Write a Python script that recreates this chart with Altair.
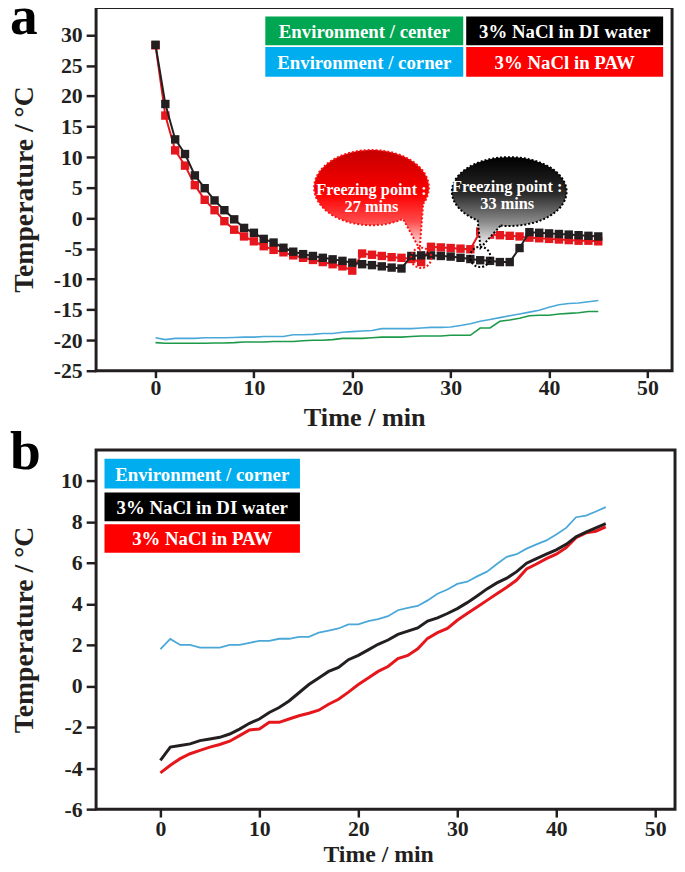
import altair as alt
import numpy as np
import pandas as pd

# ---------------- data ----------------
minutes = list(range(46))

# panel a (cooling)
a_env_center = [-20.4, -20.5, -20.5, -20.5, -20.5, -20.5, -20.45, -20.45, -20.4, -20.3,
                -20.3, -20.3, -20.2, -20.2, -20.2, -20.1, -20.0, -20.0, -19.9, -19.7,
                -19.7, -19.7, -19.6, -19.5, -19.5, -19.5, -19.4, -19.3, -19.3, -19.3,
                -19.2, -19.2, -19.2, -18.0, -18.0, -16.9, -16.7, -16.4, -16.0, -15.9,
                -15.9, -15.7, -15.6, -15.5, -15.3, -15.3]
a_env_corner = [-19.6, -19.9, -19.7, -19.7, -19.7, -19.6, -19.6, -19.6, -19.55, -19.5,
                -19.5, -19.4, -19.4, -19.4, -19.1, -19.1, -19.05, -18.9, -18.9, -18.7,
                -18.6, -18.5, -18.4, -18.1, -18.1, -18.1, -18.1, -18.0, -17.9, -17.9,
                -17.85, -17.6, -17.3, -16.9, -16.6, -16.3, -16.0, -15.7, -15.4, -15.1,
                -14.6, -14.2, -14.0, -13.9, -13.7, -13.5]
a_di = [28.4, 18.7, 12.9, 10.5, 7.0, 4.9, 2.9, 1.3, -0.2, -1.6,
        -2.4, -3.4, -4.0, -4.85, -5.5, -5.9, -6.2, -6.5, -6.75, -7.0,
        -7.3, -7.55, -7.7, -7.9, -8.1, -8.25, -6.2, -6.1, -6.1, -6.2,
        -6.3, -6.5, -6.7, -6.9, -7.0, -7.2, -7.2, -4.9, -2.3, -2.4,
        -2.5, -2.6, -2.7, -2.8, -2.9, -3.0]
a_paw = [28.3, 16.8, 11.1, 8.6, 5.4, 3.0, 1.3, -0.5, -1.9, -3.0,
         -3.8, -4.6, -5.2, -5.6, -6.1, -6.5, -6.85, -7.2, -7.55, -7.9,
         -8.6, -5.8, -6.0, -6.2, -6.4, -6.5, -6.7, -7.2, -4.7, -4.8,
         -4.9, -5.0, -5.1, -2.2, -2.7, -2.8, -2.9, -3.0, -3.2, -3.3,
         -3.4, -3.5, -3.6, -3.7, -3.7, -3.8]

# panel b (warming)
b_env_corner = [1.79, 2.29, 2.0, 2.0, 1.87, 1.87, 1.87, 2.0, 2.0, 2.1,
                2.2, 2.2, 2.3, 2.3, 2.39, 2.39, 2.6, 2.7, 2.8, 3.0,
                3.0, 3.16, 3.26, 3.4, 3.69, 3.8, 3.9, 4.17, 4.49, 4.7,
                4.97, 5.08, 5.34, 5.57, 5.94, 6.29, 6.42, 6.69, 6.9, 7.09,
                7.38, 7.7, 8.22, 8.3, 8.5, 8.71]
b_di = [-3.62, -2.98, -2.9, -2.82, -2.66, -2.58, -2.5, -2.34, -2.1, -1.82,
        -1.61, -1.29, -1.05, -0.73, -0.33, 0.07, 0.39, 0.71, 0.9, 1.28,
        1.49, 1.76, 2.03, 2.24, 2.51, 2.67, 2.83, 3.16, 3.32, 3.53,
        3.77, 4.06, 4.38, 4.73, 5.02, 5.25, 5.57, 5.98, 6.2, 6.42,
        6.63, 6.9, 7.27, 7.49, 7.7, 7.91]
b_paw = [-4.23, -3.86, -3.54, -3.3, -3.14, -2.98, -2.85, -2.69, -2.42, -2.14,
         -2.1, -1.77, -1.77, -1.61, -1.45, -1.33, -1.18, -0.89, -0.65, -0.3,
         0.07, 0.39, 0.71, 0.95, 1.33, 1.49, 1.81, 2.32, 2.6, 2.8,
         3.2, 3.53, 3.85, 4.17, 4.49, 4.81, 5.16, 5.7, 5.94, 6.2,
         6.42, 6.74, 7.22, 7.46, 7.54, 7.75]

x_ticks = [0, 10, 20, 30, 40, 50]
ya_ticks = [-25, -20, -15, -10, -5, 0, 5, 10, 15, 20, 25, 30]
yb_ticks = [-6, -4, -2, 0, 2, 4, 6, 8, 10]

legend_a_labels = ["Environment / center", "3% NaCl in DI water",
                   "Environment / corner", "3% NaCl in PAW"]
legend_b_labels = ["Environment / corner", "3% NaCl in DI water", "3% NaCl in PAW"]

freeze_times = [27, 33]            # min
freeze_temps = [-6.5, -6.35]       # °C at the marked points
bubble_t = [21.95, 35.95]
bubble_T = [5.0, 4.35]
bubble_line1 = ["Freezing point :", "Freezing point :"]
bubble_line2 = ["27 mins", "33 mins"]
bubble_text_t = [21.95, 35.75]
bubble_text_T1 = [4.68, 5.17]
bubble_text_T2 = [1.76, 2.25]

# ---------------- style ----------------
FONT = "Liberation Serif"
INK = "#231f20"
C_GREEN = "#1d9a49"
C_BLUE = "#4aa8d8"
C_BLACK = INK
C_RED = "#e5171d"
BOX_GREEN = "#00a651"
BOX_BLUE = "#00aeef"
BOX_BLACK = "#000000"
BOX_RED = "#ff0000"

WA, HA = 582, 367
WB, HB = 585, 363
LABEL_EXPR = "'' + datum.value"

xa_scale = alt.Scale(domain=[-6.04, 52.5], nice=False, zero=False)
ya_scale = alt.Scale(domain=[-25, 34.5], nice=False, zero=False)
xb_scale = alt.Scale(domain=[-6.5, 52.0], nice=False, zero=False)
yb_scale = alt.Scale(domain=[-6, 11.5], nice=False, zero=False)

xa_axis = alt.Axis(values=x_ticks, title="Time / min", tickSize=7, labelPadding=0,
                   titleX=271, titleY=34, titleBaseline="top", titleAlign="center",
                   titleFontSize=26.5, labelFlush=False, labelExpr=LABEL_EXPR)
ya_axis = alt.Axis(values=ya_ticks, title="Temperature / °C", tickSize=10, labelPadding=4,
                   titleX=-72, titleY=HA / 2, titleBaseline="middle", titleAlign="center",
                   titleFontSize=28, labelOverlap=False, labelExpr=LABEL_EXPR)
xb_axis = alt.Axis(values=x_ticks, title="Time / min", tickSize=8, labelPadding=2,
                   titleX=285, titleY=34, titleBaseline="top", titleAlign="center",
                   titleFontSize=24, labelFlush=False, labelExpr=LABEL_EXPR)
yb_axis = alt.Axis(values=yb_ticks, title="Temperature / °C", tickSize=10, labelPadding=4,
                   titleX=-72, titleY=HB / 2, titleBaseline="middle", titleAlign="center",
                   titleFontSize=28, labelOverlap=False, labelExpr=LABEL_EXPR)


def enc_a():
    return dict(x=alt.X("t:Q", scale=xa_scale, axis=xa_axis),
                y=alt.Y("T:Q", scale=ya_scale, axis=ya_axis))


def enc_b():
    return dict(x=alt.X("t:Q", scale=xb_scale, axis=xb_axis),
                y=alt.Y("T:Q", scale=yb_scale, axis=yb_axis))


def series(vals):
    return pd.DataFrame({"t": minutes, "T": vals})


def bubble_path(ry, base_left, base_right, tip, n=90):
    th_r = np.arccos(base_right)
    th_l = np.arccos(base_left)
    ths = np.linspace(th_r, th_l - 2 * np.pi, n)
    pts = [(np.cos(t), ry * np.sin(t)) for t in ths]
    pts.append(tip)
    return "M" + " L".join(f"{x:.3f},{y:.3f}" for x, y in pts) + " Z"


def gradient(stops):
    return alt.LinearGradient(gradient="linear", x1=0, x2=0, y1=0, y2=1,
                              stops=[alt.GradientStop(offset=o, color=c) for o, c in stops])


def one(label):
    return pd.DataFrame({"label": [label]})


def legend_box(label, color, x1, x2, y1, y2, size=19):
    box = alt.Chart(one(label)).mark_rect(color=color).encode(
        x=alt.value(x1), x2=alt.value(x2), y=alt.value(y1), y2=alt.value(y2))
    txt = alt.Chart(one(label)).mark_text(
        font=FONT, fontSize=size, fontWeight="bold", color="white",
        align="center", baseline="middle").encode(
        text="label:N", x=alt.value((x1 + x2) / 2), y=alt.value((y1 + y2) / 2 + 1))
    return [box, txt]


def panel_letter(letter, y):
    return alt.Chart(one(letter)).mark_text(
        font=FONT, fontSize=56, fontWeight="bold", color="black",
        align="left", baseline="top").encode(text="label:N", x=alt.value(-87), y=alt.value(y))


# ---------------- panel a ----------------
layers_a = []
layers_a.append(alt.Chart(series(a_env_center)).mark_line(color=C_GREEN, strokeWidth=1.6).encode(**enc_a()))
layers_a.append(alt.Chart(series(a_env_corner)).mark_line(color=C_BLUE, strokeWidth=1.6).encode(**enc_a()))
layers_a.append(alt.Chart(series(a_paw)).mark_line(color=C_RED, strokeWidth=2).encode(**enc_a()))
layers_a.append(alt.Chart(series(a_paw)).mark_point(shape="square", filled=True, size=72, opacity=1,
                                                   color=C_RED).encode(**enc_a()))
layers_a.append(alt.Chart(series(a_di)).mark_line(color=C_BLACK, strokeWidth=2).encode(**enc_a()))
layers_a.append(alt.Chart(series(a_di)).mark_point(shape="square", filled=True, size=72, opacity=1,
                                                  color=C_BLACK).encode(**enc_a()))

# speech bubbles
red_shape = bubble_path(0.655, 0.55, 0.9, (0.84, 1.07))
blk_shape = bubble_path(0.60, -0.55, -0.15, (-0.5, 0.98))
red_grad = gradient([(0, "#c40000"), (0.45, "#ff0000"), (0.72, "#ff4a4a"), (1, "#ffffff")])
blk_grad = gradient([(0, "#000000"), (0.4, "#2a2a2a"), (0.72, "#8c8c8c"), (1, "#ffffff")])
bub_df = [pd.DataFrame({"t": [bubble_t[i]], "T": [bubble_T[i]]}) for i in range(2)]
layers_a.append(alt.Chart(bub_df[0]).mark_point(
    shape=red_shape, size=13456, filled=True, fill=red_grad, opacity=1,
    stroke="#ff1010", strokeWidth=2, strokeDash=[2, 2]).encode(**enc_a()))
layers_a.append(alt.Chart(bub_df[1]).mark_point(
    shape=blk_shape, size=13456, filled=True, fill=blk_grad, opacity=1,
    stroke="#000000", strokeWidth=2, strokeDash=[2, 2]).encode(**enc_a()))
# freezing point rings
for i, col in enumerate(["#ff1010", "#000000"]):
    ring = pd.DataFrame({"t": [freeze_times[i]], "T": [freeze_temps[i]]})
    layers_a.append(alt.Chart(ring).mark_point(
        shape="circle", size=420, filled=False, opacity=1, stroke=col,
        strokeWidth=2, strokeDash=[2, 2]).encode(**enc_a()))
# bubble text
for i in range(2):
    for T_val, txt in [(bubble_text_T1[i], bubble_line1[i]), (bubble_text_T2[i], bubble_line2[i])]:
        d = pd.DataFrame({"t": [bubble_text_t[i]], "T": [T_val], "label": [txt]})
        layers_a.append(alt.Chart(d).mark_text(
            font=FONT, fontSize=16.5, fontWeight="bold", color="white",
            align="center", baseline="middle").encode(text="label:N", **enc_a()))

# legend a (2 x 2)
cols_a = [(171, 371), (374, 573)]
rows_a = [(9, 38), (40, 70)]
colors_a = [BOX_GREEN, BOX_BLACK, BOX_BLUE, BOX_RED]
for k, lab in enumerate(legend_a_labels):
    cx = cols_a[k % 2]
    ry = rows_a[k // 2]
    layers_a += legend_box(lab, colors_a[k], cx[0], cx[1], ry[0], ry[1])

layers_a.append(panel_letter("a", -17))
panel_a = alt.layer(*layers_a).properties(width=WA, height=HA)

# ---------------- panel b ----------------
layers_b = []
layers_b.append(alt.Chart(series(b_env_corner)).mark_line(color=C_BLUE, strokeWidth=1.8).encode(**enc_b()))
layers_b.append(alt.Chart(series(b_paw)).mark_line(color=C_RED, strokeWidth=3).encode(**enc_b()))
layers_b.append(alt.Chart(series(b_di)).mark_line(color=C_BLACK, strokeWidth=3).encode(**enc_b()))

rows_b = [(9, 39), (43, 72), (75, 104)]
colors_b = [BOX_BLUE, BOX_BLACK, BOX_RED]
for k, lab in enumerate(legend_b_labels):
    layers_b += legend_box(lab, colors_b[k], 8.5, 206, rows_b[k][0], rows_b[k][1])

layers_b.append(panel_letter("b", -25))
panel_b = alt.layer(*layers_b).properties(width=WB, height=HB)

chart = alt.vconcat(panel_a, panel_b, spacing=-10).properties(
    padding={"left": 0, "top": -25, "right": 0, "bottom": 0}
).configure_view(stroke=INK, strokeWidth=3).configure_axis(
    domain=False, grid=False, tickColor=INK, tickWidth=2.5,
    labelFont=FONT, labelFontWeight="bold", labelColor=INK, labelFontSize=22,
    titleFont=FONT, titleFontWeight="bold", titleColor=INK)

chart.save("out.html", embed_options={"renderer": "svg", "actions": False})
